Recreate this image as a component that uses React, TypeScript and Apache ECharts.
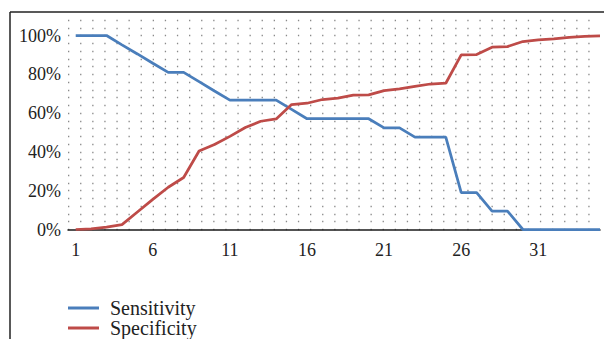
import React, { useEffect, useRef } from "react";
import * as echarts from "echarts";

const positions = [
  1, 2, 3, 4, 5, 6, 7, 8, 9, 10, 11, 12, 13, 14, 15, 16, 17, 18, 19, 20,
  21, 22, 23, 24, 25, 26, 27, 28, 29, 30, 31, 32, 33, 34, 35,
];
const xTickLabels = [1, 6, 11, 16, 21, 26, 31];
const sensitivity = [
  100, 100, 100, 95.2, 90.5, 85.7, 81, 81, 76.2, 71.4, 66.7, 66.7, 66.7, 66.7,
  61.9, 57.1, 57.1, 57.1, 57.1, 57.1, 52.4, 52.4, 47.6, 47.6, 47.6, 19, 19,
  9.5, 9.5, 0, 0, 0, 0, 0, 0,
];
const specificity = [
  0, 0.3, 1.2, 2.5, 9, 15.5, 21.8, 26.8, 40.5, 43.8, 48, 52.6, 55.8, 57, 64.4,
  65.1, 67, 67.7, 69.3, 69.4, 71.6, 72.5, 73.8, 75, 75.4, 90, 90.2, 94, 94.3,
  96.9, 97.8, 98.3, 99.1, 99.6, 99.8,
];
const yTickLabels = [0, 20, 40, 60, 80, 100];
const seriesNames = ["Sensitivity", "Specificity"];
const seriesColors = ["#4a7ebb", "#be4b48"];

const FONT = "'Liberation Serif', 'DejaVu Serif', serif";

export default function App() {
  const ref = useRef<HTMLDivElement>(null);
  useEffect(() => {
    if (!ref.current) return;
    const chart = echarts.init(ref.current, undefined, { renderer: "svg" });
    const legendBase = {
      orient: "vertical",
      left: 68,
      icon: "rect",
      itemWidth: 31,
      itemHeight: 3,
      itemGap: 0,
      padding: 0,
      textStyle: {
        fontFamily: FONT,
        fontSize: 20,
        lineHeight: 20,
        color: "#222",
        padding: [0, 0, 0, 6],
      },
    };
    chart.setOption({
      animation: false,
      backgroundColor: "#ffffff",
      grid: { left: 68, right: 4, top: 20, bottom: 109.5, containLabel: false },
      xAxis: {
        type: "value",
        min: 0.5,
        max: 35,
        axisLine: { show: true, lineStyle: { color: "#1a1a1a", width: 1.5 } },
        axisTick: { show: false },
        splitLine: { show: false },
        axisLabel: {
          customValues: xTickLabels,
          margin: 11,
          fontFamily: FONT,
          fontSize: 18,
          color: "#222",
        },
      },
      yAxis: {
        type: "value",
        min: 0,
        max: 108,
        interval: 4,
        axisLine: { show: false },
        axisTick: { show: false },
        axisLabel: {
          margin: 7,
          fontFamily: FONT,
          fontSize: 18,
          color: "#222",
          formatter: (v: number) =>
            yTickLabels.indexOf(v) >= 0 ? v + "%" : "",
        },
        splitLine: {
          show: true,
          lineStyle: { color: "#8a8a8a", width: 1.3, type: [1.3, 10.8] },
        },
      },
      legend: [
        { ...legendBase, top: 298, data: [seriesNames[0]] },
        { ...legendBase, top: 318, data: [seriesNames[1]] },
      ],
      series: seriesNames.map((name, idx) => ({
        name,
        type: "line",
        showSymbol: false,
        symbol: "none",
        data: positions.map((p, i) => [
          p,
          (idx === 0 ? sensitivity : specificity)[i],
        ]),
        lineStyle: { color: seriesColors[idx], width: 2.75 },
        itemStyle: { color: seriesColors[idx] },
      })),
      graphic: [
        {
          type: "line",
          shape: { x1: 10, y1: 12, x2: 10, y2: 339 },
          style: { stroke: "#222", lineWidth: 1.5 },
        },
        {
          type: "line",
          shape: { x1: 10, y1: 12, x2: 604, y2: 12 },
          style: { stroke: "#222", lineWidth: 1.5 },
        },
      ],
    });
    return () => chart.dispose();
  }, []);
  return (
    <div
      ref={ref}
      style={{ position: "absolute", left: 0, top: 0, width: 604, height: 339 }}
    />
  );
}
